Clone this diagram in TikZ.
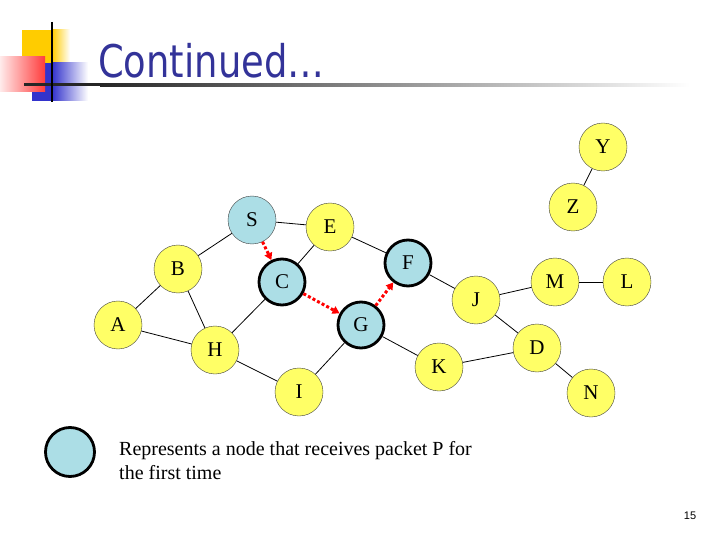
\documentclass[tikz,border=0pt]{standalone}
\usepackage{fontspec}
\setmainfont{Liberation Serif}
\newfontfamily\titlefont{DejaVu Sans}[FakeStretch=0.82]
\newfontfamily\pagefont{Liberation Sans}
\usetikzlibrary{arrows.meta,positioning}

\definecolor{nodeyellow}{RGB}{255,255,102}
\definecolor{nodeblue}{RGB}{172,222,230}
\definecolor{titleblue}{RGB}{51,51,153}
\definecolor{decoyellow}{RGB}{255,204,0}
\definecolor{decoblue}{RGB}{51,51,204}
\definecolor{decored}{RGB}{255,60,60}

\begin{document}
\begin{tikzpicture}[
  x=1pt, y=-1pt,
  plain/.style={
    circle,
    draw=black!75,
    fill=nodeyellow,
    minimum size=48,
    inner sep=0,
    font=\fontsize{21}{21}\selectfont
    },
  source/.style={
    plain,
    fill=nodeblue
    },
  reached/.style={
    plain,
    fill=nodeblue,
    draw=black,
    line width=2.8pt,
    minimum size=46
    },
  flood/.style={
    draw=red,
    line width=3pt,
    dash pattern=on 3pt off 2.2pt,
    -{Triangle[length=7pt,width=8pt]}
  }
]
\useasboundingbox (0,0) rectangle (720,540);

% header
\fill[decoyellow] (22,30) rectangle (52,63);
\shade[left color=decoyellow, right color=white] (52,30) rectangle (70,63);
\fill[decoblue] (32,63) rectangle (52,101);
\shade[left color=decoblue, right color=white] (52,63) rectangle (88,101);
\shade[left color=red!8, right color=decored] (0,57) rectangle (45,92);
\fill[black!85] (24,83.5) rectangle (100,86.5);
\shade[left color=black!85, right color=white] (100,83.5) rectangle (690,86.5);
\draw[line width=2.5pt] (52,22) -- (52,102);
\node[anchor=base west, inner sep=0, text=titleblue,
  font=\titlefont\fontsize{45}{45}\selectfont] (title) at (98,78) {Continued…};

% nodes
\node[source]  (S) at (252,220) {S};
\node[plain]   (E) at (330,227) {E};
\node[plain]   (B) at (178,269) {B};
\node[reached] (C) at (282,282) {C};
\node[reached] (F) at (408,263) {F};
\node[plain]   (A) at (118,325) {A};
\node[reached] (G) at (361,325) {G};
\node[plain]   (H) at (215,350) {H};
\node[plain]   (I) at (299,392) {I};
\node[plain]   (K) at (439,367) {K};
\node[plain]   (J) at (476,300) {J};
\node[plain]   (M) at (555,282) {M};
\node[plain]   (L) at (627,282) {L};
\node[plain]   (D) at (537,348) {D};
\node[plain]   (N) at (591,393) {N};
\node[plain]   (Z) at (573,207) {Z};
\node[plain]   (Y) at (603,147) {Y};

\foreach \a/\b in {A/B, A/H, B/S, B/H, S/E, E/C, E/F, H/C, H/I, I/G,
                   G/K, K/D, F/J, J/M, M/L, J/D, D/N, Z/Y}
    \draw[line width=0.8pt] (\a) -- (\b);

\draw[flood] (S) -- (C);
\draw[flood] (C) -- (G);
\draw[flood] (G) -- (F);

% legend
\node[reached, minimum size=49] (key) at (70,452) {};
\node[anchor=north west, inner sep=0, align=left,
  font=\fontsize{20}{24}\selectfont] (keytext) at (119,441)
  {Represents a node that receives packet P for\\the first time};

\node[font=\pagefont\fontsize{11}{11}\selectfont] (page) at (690,516) {15};
\end{tikzpicture}
\end{document}
